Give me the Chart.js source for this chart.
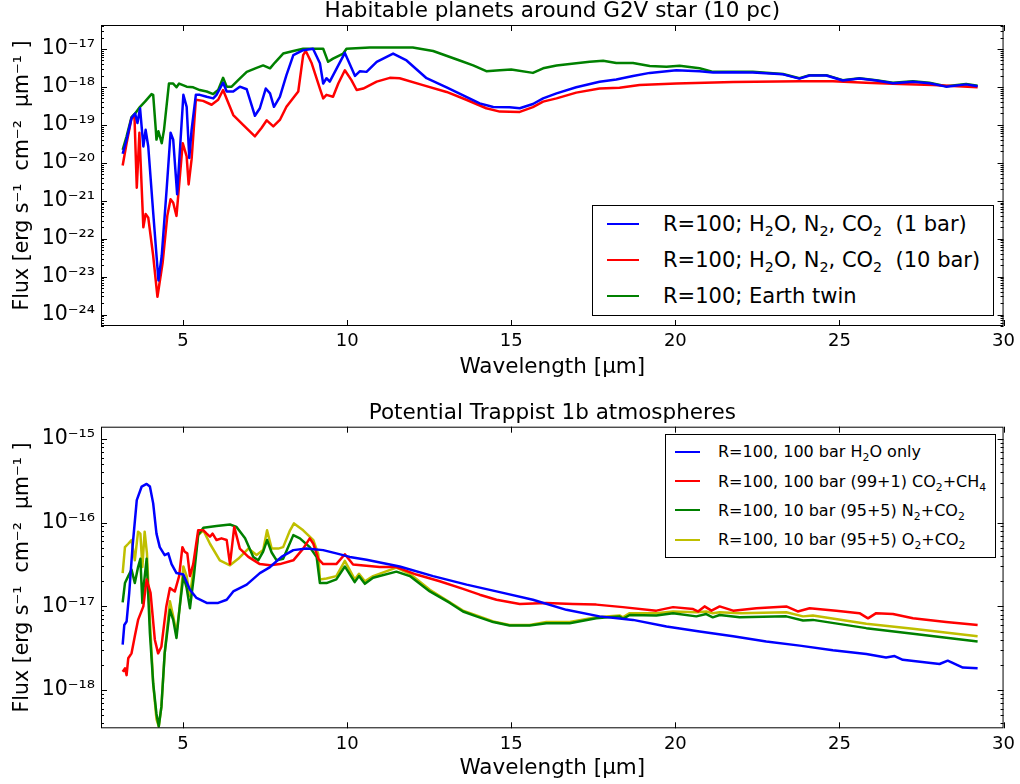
<!DOCTYPE html>
<html>
<head>
<meta charset="utf-8">
<script src="https://cdn.jsdelivr.net/npm/chart.js@4.4.1/dist/chart.umd.min.js"></script>
<style>
  body { margin: 0; background: #fff; font-family: "DejaVu Sans", sans-serif; }
  #page { position: relative; width: 1020px; height: 784px; overflow: hidden; }
  #page canvas { position: absolute; left: 0; }
  .legend { position: absolute; border: 1px solid #000; background: #fff; box-sizing: border-box; color: #000; }
  .legend .row { position: absolute; white-space: nowrap; }
  .legend .swatch { position: absolute; height: 0; border-top-style: solid; }
  .legend sub { font-size: 68%; vertical-align: -0.35em; line-height: 0; }
</style>
</head>
<body>
<div id="page">
  <canvas id="topChart" width="1020" height="392" style="top:0"></canvas>
  <canvas id="bottomChart" width="1020" height="392" style="top:392px"></canvas>
  <div id="topLegend" class="legend"></div>
  <div id="bottomLegend" class="legend"></div>
</div>
<script>
// --- tick labels ---
const xTicks = [5, 10, 15, 20, 25, 30];
const topYTicks = [1e-24, 1e-23, 1e-22, 1e-21, 1e-20, 1e-19, 1e-18, 1e-17];
const bottomYTicks = [1e-18, 1e-17, 1e-16, 1e-15];

// --- top panel: G2V star, 10 pc ---
const topBlueWl = [3.16, 3.28, 3.43, 3.54, 3.61, 3.69, 3.79, 3.86, 3.94, 4.09, 4.25, 4.35, 4.50, 4.62, 4.70, 4.82,
  5.01, 5.11, 5.19, 5.26, 5.39, 5.51, 5.72, 5.92, 6.02, 6.22, 6.33, 6.53, 6.73, 6.94, 7.19, 7.34, 7.52, 7.65, 7.77,
  7.95, 8.15, 8.36, 8.66, 8.96, 9.17, 9.27, 9.37, 9.47, 9.73, 9.93, 10.24, 10.39, 10.59, 10.90, 11.40, 11.81, 12.42,
  13.03, 13.63, 14.04, 14.45, 14.95, 15.26, 15.66, 15.97, 16.38, 16.98, 17.69, 18.20, 18.71, 19.22, 20.03, 20.74,
  21.15, 21.76, 22.36, 23.28, 23.78, 24.09, 24.60, 25.10, 25.61, 26.12, 26.63, 27.24, 27.74, 28.25, 28.86, 29.21];
const topBlueFlux = [1.74e-20, 4.1e-20, 1.51e-19, 2.0e-19, 1.12e-19, 2.75e-19, 2.7e-20, 7.4e-20, 2.7e-20, 4.9e-22,
  7.9e-24, 3.55e-23, 2.0e-21, 6.2e-20, 4.1e-20, 1.48e-21, 6.2e-19, 3.0e-19, 1.35e-20, 7.4e-20, 6.2e-19, 6.2e-19,
  5.5e-19, 5.0e-19, 6.2e-19, 1.29e-18, 7.6e-19, 7.6e-19, 1.02e-18, 8.7e-19, 1.74e-19, 2.75e-19, 9.1e-19, 6.8e-19,
  3.0e-19, 5.5e-19, 2.05e-18, 6.9e-18, 9.3e-18, 1.02e-17, 4.2e-18, 1.23e-18, 1.7e-18, 1.38e-18, 3.7e-18, 7.9e-18,
  1.95e-18, 2.6e-18, 2.5e-18, 4.6e-18, 7.6e-18, 5.0e-18, 1.7e-18, 9.8e-19, 5.5e-19, 3.7e-19, 2.95e-19, 2.9e-19,
  2.75e-19, 3.55e-19, 5.0e-19, 6.8e-19, 9.8e-19, 1.38e-18, 1.58e-18, 1.95e-18, 2.35e-18, 2.75e-18, 2.6e-18,
  2.4e-18, 2.45e-18, 2.4e-18, 2.15e-18, 1.66e-18, 2.0e-18, 2.0e-18, 1.48e-18, 1.66e-18, 1.48e-18, 1.26e-18,
  1.38e-18, 1.26e-18, 1.02e-18, 1.17e-18, 1.05e-18];

const topRedWl = [3.16, 3.28, 3.43, 3.52, 3.59, 3.67, 3.79, 3.86, 3.94, 4.09, 4.22, 4.38, 4.52, 4.62, 4.70, 4.80,
  4.99, 5.11, 5.17, 5.26, 5.39, 5.61, 5.87, 6.07, 6.22, 6.34, 6.53, 6.83, 7.19, 7.39, 7.55, 7.75, 7.95, 8.15, 8.51,
  8.66, 8.74, 8.92, 9.17, 9.27, 9.37, 9.57, 9.73, 9.93, 10.13, 10.29, 10.49, 10.90, 11.30, 11.60, 12.31, 13.03,
  13.63, 14.24, 14.65, 15.26, 15.66, 15.97, 16.38, 16.98, 17.69, 18.30, 18.91, 20.03, 21.76, 23.78, 24.80, 25.81,
  26.83, 27.85, 29.21];
const topRedFlux = [8.5e-21, 3.3e-20, 1.51e-19, 1.66e-19, 2.2e-21, 6.2e-20, 2.0e-22, 4.5e-22, 3.6e-22, 3.55e-23,
  2.95e-24, 2.4e-23, 4.0e-22, 1.10e-21, 8.9e-22, 4.0e-22, 3.3e-20, 1.48e-20, 2.7e-21, 1.23e-20, 4.6e-19, 4.3e-19,
  3.4e-19, 4.6e-19, 8.3e-19, 4.6e-19, 1.82e-19, 1.0e-19, 5.0e-20, 8.3e-20, 1.32e-19, 9.1e-20, 1.35e-19, 3.0e-19,
  7.6e-19, 6.9e-18, 8.9e-18, 4.2e-18, 9.1e-19, 5.0e-19, 6.2e-19, 5.5e-19, 1.23e-18, 2.75e-18, 1.51e-18, 8.3e-19,
  9.1e-19, 1.38e-18, 1.74e-18, 1.7e-18, 1.12e-18, 7.4e-19, 4.6e-19, 2.75e-19, 2.24e-19, 2.2e-19, 2.95e-19, 4.1e-19,
  5.0e-19, 7.1e-19, 9.1e-19, 9.5e-19, 1.12e-18, 1.23e-18, 1.35e-18, 1.41e-18, 1.41e-18, 1.29e-18, 1.2e-18,
  1.12e-18, 9.8e-19];

const topGreenWl = [3.16, 3.28, 3.43, 3.54, 3.69, 3.84, 4.04, 4.09, 4.17, 4.19, 4.25, 4.35, 4.42, 4.57, 4.70, 4.80,
  4.88, 5.11, 5.31, 5.51, 5.72, 5.92, 6.07, 6.22, 6.33, 6.48, 6.68, 6.94, 7.24, 7.44, 7.65, 7.80, 8.05, 8.36, 8.66,
  9.27, 9.42, 9.57, 9.88, 9.98, 10.69, 12.00, 12.62, 13.43, 13.84, 14.24, 14.65, 15.00, 15.66, 15.97, 16.38, 16.98,
  17.39, 17.80, 18.20, 18.71, 19.22, 19.73, 20.13, 20.74, 21.15, 21.76, 22.36, 23.28, 23.78, 24.09, 24.60, 25.10,
  25.61, 26.12, 26.63, 27.24, 27.74, 28.25, 28.86, 29.21];
const topGreenFlux = [2.2e-20, 5.0e-20, 1.6e-19, 2.0e-19, 3.0e-19, 4.1e-19, 6.5e-19, 6.2e-19, 7.4e-20, 4.1e-20,
  6.8e-20, 3.3e-20, 7.4e-20, 1.23e-18, 1.23e-18, 9.8e-19, 1.23e-18, 1.02e-18, 9.8e-19, 8.3e-19, 7.6e-19, 6.5e-19,
  8.3e-19, 1.74e-18, 1.02e-18, 1.02e-18, 1.51e-18, 2.5e-18, 3.2e-18, 3.7e-18, 3.1e-18, 4.4e-18, 7.6e-18, 8.9e-18,
  1.02e-17, 1.02e-17, 4.6e-18, 5.6e-18, 7.6e-18, 1.02e-17, 1.10e-17, 1.10e-17, 8.9e-18, 5.0e-18, 3.7e-18, 2.6e-18,
  2.75e-18, 2.9e-18, 2.35e-18, 3.1e-18, 3.7e-18, 4.2e-18, 4.6e-18, 4.9e-18, 4.3e-18, 4.3e-18, 3.55e-18, 3.4e-18,
  3.6e-18, 3.1e-18, 2.5e-18, 2.5e-18, 2.5e-18, 2.2e-18, 1.7e-18, 2.05e-18, 2.05e-18, 1.51e-18, 1.7e-18, 1.51e-18,
  1.29e-18, 1.41e-18, 1.29e-18, 1.05e-18, 1.2e-18, 1.07e-18];

// --- bottom panel: Trappist 1b ---
const botBlueWl = [3.16, 3.21, 3.28, 3.36, 3.46, 3.59, 3.74, 3.89, 3.99, 4.09, 4.19, 4.29, 4.44, 4.55, 4.65, 4.80,
  5.01, 5.21, 5.41, 5.72, 6.07, 6.33, 6.53, 6.94, 7.34, 7.65, 8.00, 8.36, 8.76, 9.27, 9.67, 10.08, 10.59, 11.60,
  12.62, 13.64, 14.65, 15.66, 16.68, 17.69, 18.71, 19.73, 20.74, 21.76, 22.77, 23.79, 24.80, 25.82, 26.42, 26.68,
  26.93, 27.85, 28.05, 28.30, 28.76, 29.21];
const botBlueFlux = [3.5e-18, 6.0e-18, 6.6e-18, 1.45e-17, 5.1e-17, 1.86e-16, 2.7e-16, 2.9e-16, 2.7e-16, 1.7e-16,
  7.4e-17, 5.1e-17, 4.1e-17, 4.3e-17, 3.2e-17, 2.5e-17, 2.4e-17, 1.58e-17, 1.26e-17, 1.10e-17, 1.10e-17, 1.2e-17,
  1.51e-17, 1.82e-17, 2.5e-17, 2.95e-17, 3.9e-17, 4.7e-17, 4.9e-17, 4.7e-17, 4.3e-17, 3.9e-17, 3.6e-17, 3.0e-17,
  2.3e-17, 1.82e-17, 1.48e-17, 1.2e-17, 9.1e-18, 7.6e-18, 6.9e-18, 5.75e-18, 5.0e-18, 4.4e-18, 3.8e-18, 3.4e-18,
  3.0e-18, 2.7e-18, 2.45e-18, 2.55e-18, 2.3e-18, 2.1e-18, 2.05e-18, 2.25e-18, 1.86e-18, 1.82e-18];

const botRedWl = [3.16, 3.23, 3.28, 3.33, 3.43, 3.53, 3.63, 3.79, 3.89, 4.01, 4.14, 4.24, 4.34, 4.49, 4.60, 4.75,
  4.88, 4.98, 5.05, 5.13, 5.21, 5.31, 5.46, 5.62, 5.72, 5.82, 5.90, 6.02, 6.17, 6.33, 6.43, 6.56, 6.73, 6.99, 7.34,
  7.65, 7.95, 8.36, 8.66, 8.86, 8.97, 9.12, 9.27, 9.67, 9.93, 10.18, 10.99, 11.50, 12.11, 12.82, 13.53, 14.04,
  14.55, 15.26, 16.07, 16.88, 17.59, 18.40, 19.42, 19.93, 20.54, 20.69, 20.89, 21.10, 21.35, 21.76, 22.47, 23.38,
  23.73, 24.09, 24.90, 25.61, 25.87, 26.12, 26.63, 27.24, 28.25, 29.21];
const botRedFlux = [1.66e-18, 1.82e-18, 1.51e-18, 2.4e-18, 2.75e-18, 4.4e-18, 6.9e-18, 1.0e-17, 2.1e-17, 1.45e-17,
  4.0e-18, 2.75e-18, 3.3e-18, 1.0e-17, 1.66e-17, 1.51e-17, 2.3e-17, 5.1e-17, 4.5e-17, 4.3e-17, 2.3e-17, 3.2e-17,
  8.1e-17, 8.1e-17, 7.4e-17, 6.8e-17, 7.4e-17, 6.2e-17, 6.5e-17, 6.2e-17, 3.2e-17, 8.9e-17, 4.9e-17, 3.9e-17,
  3.2e-17, 3.1e-17, 3.2e-17, 3.55e-17, 4.9e-17, 6.5e-17, 5.6e-17, 3.7e-17, 3.2e-17, 3.2e-17, 4.2e-17, 3.16e-17,
  2.95e-17, 2.95e-17, 2.4e-17, 2.0e-17, 1.62e-17, 1.38e-17, 1.2e-17, 1.07e-17, 1.10e-17, 1.07e-17, 1.05e-17,
  9.8e-18, 8.9e-18, 9.8e-18, 9.3e-18, 8.7e-18, 1.0e-17, 8.9e-18, 1.0e-17, 8.9e-18, 9.5e-18, 1.0e-17, 8.7e-18,
  9.5e-18, 8.9e-18, 8.3e-18, 7.2e-18, 8.3e-18, 8.1e-18, 7.2e-18, 6.5e-18, 6.0e-18];

const botGreenWl = [3.16, 3.23, 3.33, 3.43, 3.53, 3.63, 3.70, 3.76, 3.81, 3.89, 3.99, 4.09, 4.19, 4.26, 4.34, 4.44,
  4.60, 4.70, 4.80, 4.90, 5.01, 5.11, 5.21, 5.33, 5.46, 5.62, 6.02, 6.43, 6.63, 6.89, 7.14, 7.29, 7.44, 7.56, 7.70,
  7.85, 8.05, 8.36, 8.56, 8.86, 9.07, 9.17, 9.37, 9.67, 9.93, 10.23, 10.36, 10.54, 10.79, 11.50, 11.91, 12.52,
  13.13, 13.53, 13.94, 14.45, 14.95, 15.56, 16.07, 16.78, 17.59, 18.30, 18.40, 18.61, 19.42, 19.93, 20.64, 20.94,
  21.14, 21.35, 21.96, 23.38, 23.89, 24.19, 25.82, 27.24, 29.21];
const botGreenFlux = [1.12e-17, 1.9e-17, 2.3e-17, 2.75e-17, 1.9e-17, 2.95e-17, 3.7e-17, 1.10e-17, 1.9e-17, 3.7e-17,
  4.8e-18, 1.2e-18, 5.2e-19, 3.7e-19, 6.3e-19, 2.75e-18, 9.1e-18, 6.9e-18, 4.2e-18, 1.0e-17, 2.3e-17, 1.66e-17,
  9.5e-18, 2.3e-17, 7.1e-17, 8.7e-17, 9.1e-17, 9.5e-17, 8.9e-17, 6.5e-17, 3.9e-17, 3.55e-17, 4.5e-17, 6.2e-17,
  4.4e-17, 3.55e-17, 3.7e-17, 7.1e-17, 6.5e-17, 5.1e-17, 3.9e-17, 1.9e-17, 1.9e-17, 2.1e-17, 3.0e-17, 1.95e-17,
  2.3e-17, 1.86e-17, 2.2e-17, 2.6e-17, 2.3e-17, 1.51e-17, 1.10e-17, 8.7e-18, 7.6e-18, 6.5e-18, 5.9e-18, 5.9e-18,
  6.3e-18, 6.3e-18, 7.2e-18, 7.6e-18, 7.1e-18, 7.9e-18, 7.8e-18, 8.3e-18, 7.6e-18, 8.1e-18, 7.4e-18, 7.9e-18,
  7.4e-18, 7.6e-18, 6.8e-18, 6.9e-18, 5.5e-18, 4.7e-18, 3.8e-18];

const botYellowWl = [3.16, 3.23, 3.33, 3.43, 3.53, 3.63, 3.70, 3.76, 3.83, 3.90, 3.99, 4.09, 4.19, 4.26, 4.34, 4.44,
  4.60, 4.70, 4.80, 4.90, 5.01, 5.11, 5.21, 5.33, 5.46, 5.62, 5.82, 6.12, 6.43, 6.68, 6.99, 7.24, 7.44, 7.56, 7.70,
  7.90, 8.05, 8.26, 8.38, 8.66, 8.97, 9.12, 9.17, 9.37, 9.67, 9.93, 10.23, 10.36, 10.54, 10.79, 11.50, 11.91, 12.52,
  13.13, 13.53, 13.94, 14.45, 14.95, 15.56, 16.07, 16.78, 17.59, 18.30, 18.40, 18.61, 19.42, 19.93, 20.64, 20.94,
  21.14, 21.35, 21.96, 23.38, 23.89, 24.19, 25.82, 27.24, 29.21];
const botYellowFlux = [2.5e-17, 5.1e-17, 5.6e-17, 6.2e-17, 3.55e-17, 7.8e-17, 7.4e-17, 2.95e-17, 7.8e-17, 4.3e-17,
  6.9e-18, 1.2e-18, 4.5e-19, 3.7e-19, 6.3e-19, 2.75e-18, 1.15e-17, 7.6e-18, 4.8e-18, 1.0e-17, 3.0e-17, 2.3e-17,
  1.32e-17, 3.0e-17, 7.1e-17, 8.1e-17, 5.6e-17, 3.55e-17, 3.1e-17, 3.7e-17, 4.9e-17, 4.1e-17, 4.7e-17, 8.1e-17,
  4.9e-17, 4.9e-17, 5.1e-17, 8.1e-17, 9.8e-17, 8.1e-17, 6.2e-17, 4.2e-17, 2.1e-17, 2.15e-17, 2.3e-17, 3.5e-17,
  2.1e-17, 2.45e-17, 2.0e-17, 2.3e-17, 2.9e-17, 2.45e-17, 1.58e-17, 1.12e-17, 8.9e-18, 7.8e-18, 6.6e-18, 6.0e-18,
  6.0e-18, 6.5e-18, 6.5e-18, 7.4e-18, 7.8e-18, 7.4e-18, 8.3e-18, 8.3e-18, 8.7e-18, 8.5e-18, 8.7e-18, 8.3e-18,
  8.5e-18, 8.3e-18, 8.5e-18, 7.6e-18, 7.8e-18, 6.2e-18, 5.4e-18, 4.4e-18];

// legend labels (subscripts as HTML)
const topLabels = [
  'R=100; H<sub>2</sub>O, N<sub>2</sub>, CO<sub>2</sub>&nbsp; (1 bar)',
  'R=100; H<sub>2</sub>O, N<sub>2</sub>, CO<sub>2</sub>&nbsp; (10 bar)',
  'R=100; Earth twin'
];
const bottomLabels = [
  'R=100, 100 bar H<sub>2</sub>O only',
  'R=100, 100 bar (99+1) CO<sub>2</sub>+CH<sub>4</sub>',
  'R=100, 10 bar (95+5) N<sub>2</sub>+CO<sub>2</sub>',
  'R=100, 10 bar (95+5) O<sub>2</sub>+CO<sub>2</sub>'
];

const FONT = '"DejaVu Sans", sans-serif';
const SUP = { '-': '\u207B', '0': '\u2070', '1': '\u00B9', '2': '\u00B2', '3': '\u00B3', '4': '\u2074',
  '5': '\u2075', '6': '\u2076', '7': '\u2077', '8': '\u2078', '9': '\u2079' };

function pts(wl, flux) {
  return wl.map((w, i) => ({ x: w, y: flux[i] }));
}

function series(label, color, wl, flux) {
  return { label: label, data: pts(wl, flux), borderColor: color, backgroundColor: color,
    borderWidth: 2.5, pointRadius: 0, tension: 0, borderJoinStyle: 'round', fill: false };
}

// matplotlib style frame + inward ticks
const framePlugin = {
  id: 'frame',
  afterDraw(chart) {
    const { ctx, chartArea: a } = chart;
    const xs = chart.scales.x, ys = chart.scales.y;
    ctx.save();
    ctx.strokeStyle = '#000';
    ctx.lineWidth = 1;
    ctx.strokeRect(a.left + 0.5, a.top + 0.5, a.right - a.left - 1, a.bottom - a.top - 1);
    ctx.beginPath();
    xTicks.forEach(v => {
      const px = Math.round(xs.getPixelForValue(v)) + 0.5;
      ctx.moveTo(px, a.bottom); ctx.lineTo(px, a.bottom - 6);
      ctx.moveTo(px, a.top); ctx.lineTo(px, a.top + 6);
    });
    const lo = Math.floor(Math.log10(ys.min)), hi = Math.ceil(Math.log10(ys.max));
    for (let e = lo; e <= hi; e++) {
      for (let k = 1; k <= 9; k++) {
        const v = k * Math.pow(10, e);
        if (v < ys.min || v > ys.max) continue;
        const len = k === 1 ? 6 : 3;
        const py = Math.round(ys.getPixelForValue(v)) + 0.5;
        ctx.moveTo(a.left, py); ctx.lineTo(a.left + len, py);
        ctx.moveTo(a.right, py); ctx.lineTo(a.right - len, py);
      }
    }
    ctx.stroke();
    ctx.restore();
  }
};

function makeChart(id, cfg) {
  return new Chart(document.getElementById(id), {
    type: 'line',
    data: { datasets: cfg.datasets },
    options: {
      responsive: false, animation: false, devicePixelRatio: 1,
      layout: { padding: { left: 0, right: 16, top: 0, bottom: 0 } },
      plugins: { legend: { display: false }, tooltip: { enabled: false }, title: { display: false } },
      scales: {
        x: {
          type: 'linear', position: 'bottom', min: 2.5, max: 30,
          grid: { display: false, drawTicks: false }, border: { display: false },
          afterBuildTicks: s => { s.ticks = xTicks.map(v => ({ value: v })); },
          afterFit: s => { s.height = cfg.xHeight; },
          ticks: { color: '#000', font: { family: FONT, size: 18 }, padding: 5, maxRotation: 0,
            callback: v => String(v) },
          title: { display: true, text: 'Wavelength [\u03BCm]', color: '#000',
            font: { family: FONT, size: 21.5, lineHeight: 1 }, padding: { top: 0, bottom: cfg.xTitlePad } }
        },
        head: {
          type: 'linear', position: 'top', min: 0, max: 1,
          grid: { display: false, drawTicks: false }, border: { display: false }, ticks: { display: false },
          afterFit: s => { s.height = cfg.headHeight; },
          title: { display: true, text: cfg.title, color: '#000',
            font: { family: FONT, size: 21.5, lineHeight: 1 }, padding: { top: cfg.titlePad, bottom: 0 } }
        },
        y: {
          type: 'logarithmic', position: 'left', min: cfg.yMin, max: cfg.yMax,
          grid: { display: false, drawTicks: false }, border: { display: false },
          afterBuildTicks: s => { s.ticks = cfg.yTicks.map(v => ({ value: v })); },
          afterFit: s => { s.width = 101; },
          ticks: { color: '#000', font: { family: FONT, size: 20.5 }, padding: 6,
            callback: v => '10' + String(Math.round(Math.log10(v))).split('').map(c => SUP[c]).join('') },
          title: { display: true, text: 'Flux [erg s\u207B\u00B9  cm\u207B\u00B2  \u03BCm\u207B\u00B9 ]', color: '#000',
            font: { family: FONT, size: 20.5, lineHeight: 1 }, padding: { top: 12.5, bottom: 0 } }
        }
      }
    },
    plugins: [framePlugin]
  });
}

function buildLegend(id, chart, labels, o) {
  const box = document.getElementById(id);
  Object.assign(box.style, { left: o.left + 'px', top: o.top + 'px', width: o.width + 'px', height: o.height + 'px',
    fontSize: o.fontSize + 'px' });
  chart.data.datasets.forEach((ds, i) => {
    const cy = o.firstRow + i * o.rowGap;
    const sw = document.createElement('div');
    sw.className = 'swatch';
    Object.assign(sw.style, { left: o.lineLeft + 'px', width: o.lineWidth + 'px', top: (cy - 1.25) + 'px',
      borderTopWidth: '2.5px', borderTopColor: ds.borderColor });
    const row = document.createElement('div');
    row.className = 'row';
    row.innerHTML = labels[i];
    Object.assign(row.style, { left: o.textLeft + 'px', top: (cy - o.fontSize * 0.6) + 'px',
      lineHeight: (o.fontSize * 1.2) + 'px' });
    box.appendChild(sw);
    box.appendChild(row);
  });
}

const topChart = makeChart('topChart', {
  title: 'Habitable planets around G2V star (10 pc)',
  yMin: 5.4e-25, yMax: 4.3e-17, yTicks: topYTicks,
  headHeight: 25, titlePad: 0.5, xHeight: 66, xTitlePad: 14,
  datasets: [
    series('blue', '#0000ff', topBlueWl, topBlueFlux),
    series('red', '#ff0000', topRedWl, topRedFlux),
    series('green', '#008000', topGreenWl, topGreenFlux)
  ]
});

const bottomChart = makeChart('bottomChart', {
  title: 'Potential Trappist 1b atmospheres',
  yMin: 3.5e-19, yMax: 1.4e-15, yTicks: bottomYTicks,
  headHeight: 34.7, titlePad: 10.5, xHeight: 55.7, xTitlePad: 5,
  datasets: [
    series('blue', '#0000ff', botBlueWl, botBlueFlux),
    series('red', '#ff0000', botRedWl, botRedFlux),
    series('green', '#008000', botGreenWl, botGreenFlux),
    series('yellow', '#bfbf00', botYellowWl, botYellowFlux)
  ]
});

buildLegend('topLegend', topChart, topLabels, { left: 592, top: 205, width: 402, height: 111, fontSize: 21,
  firstRow: 18.5, rowGap: 36, lineLeft: 14, lineWidth: 32, textLeft: 70 });
buildLegend('bottomLegend', bottomChart, bottomLabels, { left: 665, top: 434, width: 331, height: 124, fontSize: 16,
  firstRow: 17, rowGap: 29.3, lineLeft: 9, lineWidth: 25, textLeft: 52 });
</script>
</body>
</html>
